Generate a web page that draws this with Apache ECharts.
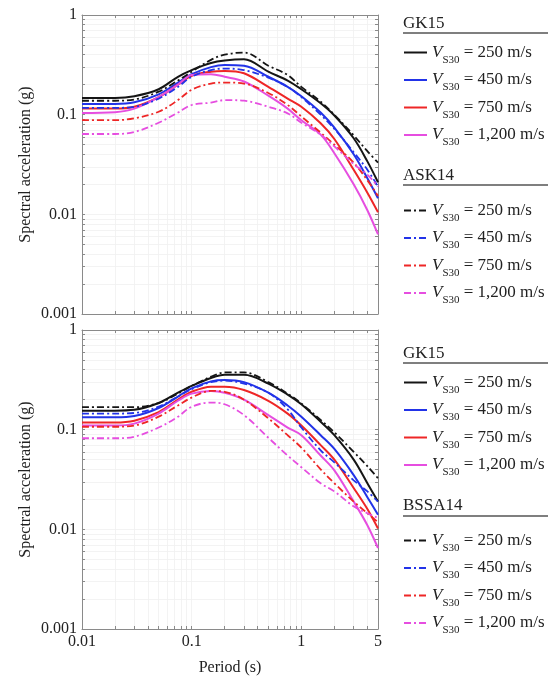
<!DOCTYPE html>
<html><head><meta charset="utf-8">
<script src="https://cdn.jsdelivr.net/npm/echarts@6/dist/echarts.min.js"></script>
<style>html,body{margin:0;padding:0;background:#fff}#c{width:555px;height:678px}</style>
</head><body><div id="c"></div>
<script>
// ---------- data ----------
const periods = [0.01,0.02,0.03,0.05,0.075,0.1,0.15,0.2,0.3,0.5,0.75,1,1.5,2,3,4,5];

// top panel: GK15 (solid) vs ASK14 (dash-dot)
const topGK15_250  = [0.147,0.147,0.153,0.18,0.24,0.28,0.33,0.35,0.36,0.27,0.22,0.18,0.13,0.098,0.058,0.034,0.021];
const topGK15_450  = [0.128,0.128,0.133,0.16,0.21,0.255,0.30,0.315,0.31,0.24,0.19,0.153,0.105,0.074,0.04,0.023,0.0145];
const topGK15_750  = [0.115,0.115,0.12,0.15,0.2,0.245,0.27,0.275,0.26,0.19,0.145,0.12,0.082,0.057,0.028,0.0165,0.0105];
const topGK15_1200 = [0.104,0.106,0.115,0.15,0.2,0.25,0.255,0.24,0.215,0.155,0.115,0.088,0.063,0.041,0.02,0.011,0.0063];
const topASK14_250  = [0.138,0.138,0.142,0.17,0.22,0.27,0.355,0.40,0.42,0.31,0.25,0.19,0.135,0.10,0.062,0.043,0.033];
const topASK14_450  = [0.117,0.117,0.12,0.145,0.19,0.24,0.28,0.29,0.28,0.235,0.19,0.15,0.10,0.072,0.042,0.028,0.019];
const topASK14_750  = [0.088,0.088,0.092,0.107,0.14,0.178,0.205,0.21,0.205,0.165,0.125,0.096,0.066,0.05,0.033,0.022,0.0153];
const topASK14_1200 = [0.064,0.064,0.067,0.083,0.105,0.125,0.132,0.14,0.138,0.12,0.103,0.083,0.063,0.048,0.032,0.025,0.019];

// bottom panel: GK15 (solid) vs BSSA14 (dash-dot)
const botGK15_250  = [0.155,0.155,0.158,0.185,0.235,0.275,0.33,0.355,0.355,0.29,0.225,0.18,0.12,0.088,0.05,0.029,0.019];
const botGK15_450  = [0.133,0.133,0.137,0.165,0.215,0.26,0.305,0.315,0.30,0.235,0.175,0.135,0.088,0.064,0.035,0.021,0.014];
const botGK15_750  = [0.118,0.118,0.123,0.15,0.2,0.24,0.27,0.27,0.25,0.195,0.145,0.11,0.07,0.05,0.026,0.016,0.0102];
const botGK15_1200 = [0.11,0.11,0.115,0.145,0.195,0.23,0.245,0.235,0.20,0.14,0.105,0.088,0.055,0.039,0.019,0.011,0.0065];
const botBSSA14_250  = [0.168,0.168,0.168,0.185,0.23,0.275,0.34,0.375,0.375,0.30,0.23,0.183,0.125,0.094,0.06,0.043,0.0325];
const botBSSA14_450  = [0.145,0.145,0.147,0.17,0.215,0.255,0.30,0.31,0.29,0.235,0.16,0.105,0.062,0.047,0.031,0.024,0.019];
const botBSSA14_750  = [0.107,0.107,0.11,0.135,0.175,0.21,0.245,0.24,0.20,0.13,0.088,0.066,0.04,0.029,0.019,0.0145,0.0118];
const botBSSA14_1200 = [0.082,0.082,0.085,0.105,0.135,0.17,0.187,0.18,0.14,0.083,0.055,0.042,0.029,0.024,0.017,0.0145,0.013];

const xLabels = [0.01, 0.1, 1, 5];
const yLabels = [0.001, 0.01, 0.1, 1];
const tickMultipliers = [1,2,3,4,5,6,7,8,9];
const vs30Labels = ['250', '450', '750', '1,200'];
const groupTitles = ['GK15', 'ASK14', 'GK15', 'BSSA14'];

// ---------- build ----------
const F = 'Liberation Serif';
const colors = ['#151515', '#2233e8', '#ee2626', '#e64ee0'];
const dashDot = [7, 3, 2, 3];

const xTicks = [];
[0.01, 0.1, 1].forEach(d => tickMultipliers.forEach(m => { const v = +(d*m).toPrecision(3); if (v <= 5) xTicks.push(v); }));
const yTicks = [];
[0.001, 0.01, 0.1].forEach(d => tickMultipliers.forEach(m => yTicks.push(+(d*m).toPrecision(3))));
yTicks.push(1);

const groups = [
  {grid: 0, dashed: false, names: ['tg0','tg1','tg2','tg3'], vals: [topGK15_250, topGK15_450, topGK15_750, topGK15_1200]},
  {grid: 0, dashed: true,  names: ['ta0','ta1','ta2','ta3'], vals: [topASK14_250, topASK14_450, topASK14_750, topASK14_1200]},
  {grid: 1, dashed: false, names: ['bg0','bg1','bg2','bg3'], vals: [botGK15_250, botGK15_450, botGK15_750, botGK15_1200]},
  {grid: 1, dashed: true,  names: ['bb0','bb1','bb2','bb3'], vals: [botBSSA14_250, botBSSA14_450, botBSSA14_750, botBSSA14_1200]}
];

const series = [];
groups.forEach(g => g.vals.forEach((vals, i) => {
  series.push({
    name: g.names[i], type: 'line', xAxisIndex: g.grid*2, yAxisIndex: g.grid*2,
    data: periods.map((p, k) => [p, vals[k]]),
    symbol: 'none', showSymbol: false, smooth: 0.35,
    lineStyle: {color: colors[i], width: g.dashed ? 1.8 : 2, type: g.dashed ? dashDot : 'solid'},
    itemStyle: {color: colors[i]}, z: g.dashed ? 3 : 2, silent: true
  });
}));

const gridPos = [{left: 82, top: 15, width: 296, height: 299}, {left: 82, top: 330, width: 296, height: 299}];
const nearest = (arr, v) => arr.reduce((a, b) => Math.abs(Math.log(b) - Math.log(v)) < Math.abs(Math.log(a) - Math.log(v)) ? b : a);
const lineC = '#8a8a8a';

const xAxis = [], yAxis = [];
[0, 1].forEach(gi => {
  [false, true].forEach(isTop => {
    xAxis.push({
      type: 'log', gridIndex: gi, min: 0.01, max: 5, position: isTop ? 'top' : 'bottom',
      axisLine: {show: true, lineStyle: {color: lineC, width: 1}},
      axisTick: {show: true, inside: true, length: 3, customValues: xTicks, lineStyle: {color: lineC}},
      axisLabel: {show: gi === 1 && !isTop, customValues: xLabels, margin: 5,
        fontFamily: F, fontSize: 16, color: '#222', formatter: v => String(nearest(xLabels, v))},
      splitLine: {show: !isTop, lineStyle: {color: '#f0f0f0', width: 0.8}},
      name: (gi === 1 && !isTop) ? 'Period (s)' : '', nameLocation: 'middle', nameGap: 31,
      nameTextStyle: {fontFamily: F, fontSize: 16, color: '#222'}
    });
    yAxis.push({
      type: 'log', gridIndex: gi, min: 0.001, max: 1, position: isTop ? 'right' : 'left',
      axisLine: {show: true, lineStyle: {color: lineC, width: 1}},
      axisTick: {show: true, inside: true, length: 3, customValues: yTicks, lineStyle: {color: lineC}},
      axisLabel: {show: !isTop, customValues: yLabels, margin: 5,
        fontFamily: F, fontSize: 16, color: '#222', formatter: v => String(nearest(yLabels, v))},
      splitLine: {show: !isTop, lineStyle: {color: '#f0f0f0', width: 0.8}},
      name: !isTop ? 'Spectral acceleration (g)' : '', nameLocation: 'middle', nameGap: 48,
      nameMoveOverlap: false,
      nameTextStyle: {fontFamily: F, fontSize: 16, color: '#222'}
    });
  });
});

const legendTops = [44, 202, 374, 532];
const nameToLabel = {};
groups.forEach(g => g.names.forEach((n, i) => nameToLabel[n] = vs30Labels[i]));
const rich = {
  v: {fontFamily: F, fontStyle: 'italic', fontSize: 17, color: '#222', lineHeight: 26},
  s: {fontFamily: F, fontSize: 11, color: '#222', lineHeight: 11, verticalAlign: 'bottom'},
  t: {fontFamily: F, fontSize: 17, color: '#222', lineHeight: 26}
};
const legend = groups.map((g, k) => ({
  data: g.names, orient: 'vertical', left: 403, top: legendTops[k], padding: 0,
  itemWidth: 23, itemHeight: 10, itemGap: 6, selectedMode: false,
  itemStyle: {opacity: 0, borderWidth: 0},
  formatter: n => '{v|V}{s|S30}{t| = ' + nameToLabel[n] + ' m/s}',
  textStyle: {rich: rich}
}));

const headerY = [23, 175, 353, 505];
const ruleY = [33, 185, 363, 516];
const graphic = [];
groupTitles.forEach((t, k) => {
  graphic.push({type: 'text', left: 403, top: headerY[k] - 8, style: {text: t, font: '17px "Liberation Serif"', fill: '#222'}});
  graphic.push({type: 'line', shape: {x1: 403, y1: ruleY[k], x2: 548, y2: ruleY[k]}, style: {stroke: '#555', lineWidth: 1.5}});
});

const chart = echarts.init(document.getElementById('c'), null, {renderer: 'canvas'});
chart.setOption({
  animation: false, backgroundColor: '#fff',
  grid: gridPos.map(p => Object.assign({containLabel: false, show: false}, p)),
  xAxis, yAxis, series, legend, graphic
});
</script></body></html>
